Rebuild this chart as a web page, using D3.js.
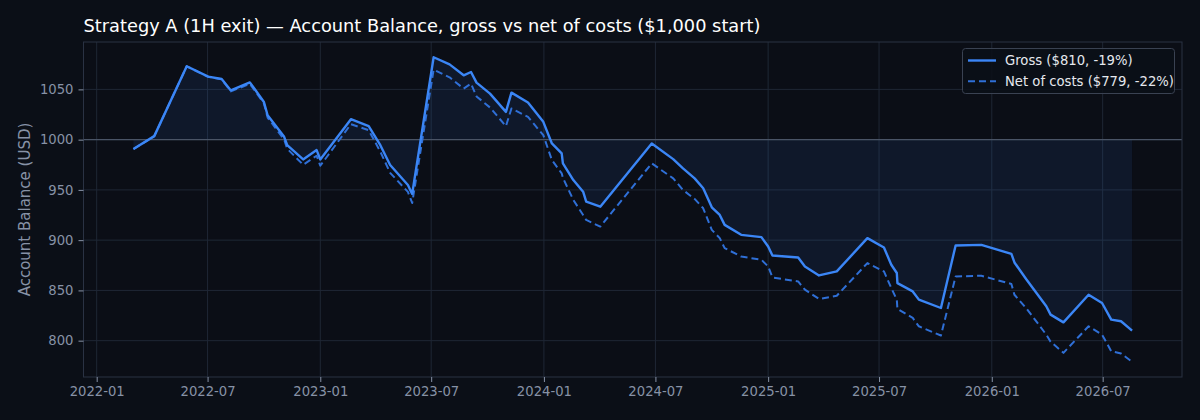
<!DOCTYPE html>
<html><head><meta charset="utf-8">
<script src="https://cdn.jsdelivr.net/npm/d3@7"></script>
<style>
html,body{margin:0;padding:0;background:#0b0f17;}
svg{display:block;font-family:"DejaVu Sans",sans-serif;}
</style></head>
<body><svg id="chart" width="1200" height="420"></svg>
<script>
const dates = ["2022-03-02","2022-04-05","2022-05-28","2022-07-02","2022-07-24","2022-08-08","2022-09-08","2022-10-01","2022-10-07","2022-11-03","2022-11-08","2022-12-04","2022-12-26","2023-01-01","2023-02-20","2023-03-21","2023-04-09","2023-04-25","2023-05-24","2023-05-31","2023-07-05","2023-07-31","2023-08-23","2023-09-04","2023-09-13","2023-10-05","2023-10-31","2023-11-09","2023-12-06","2023-12-31","2024-01-14","2024-01-30","2024-02-01","2024-02-18","2024-03-05","2024-03-10","2024-04-02","2024-06-25","2024-07-30","2024-08-15","2024-09-03","2024-09-17","2024-10-01","2024-10-14","2024-10-22","2024-11-18","2024-12-21","2025-01-01","2025-01-08","2025-02-19","2025-03-02","2025-03-25","2025-04-23","2025-06-12","2025-07-09","2025-07-21","2025-07-30","2025-07-31","2025-08-25","2025-09-04","2025-10-10","2025-11-03","2025-12-15","2026-02-02","2026-02-07","2026-02-26","2026-03-31","2026-04-07","2026-04-28","2026-06-08","2026-06-30","2026-07-15","2026-07-31","2026-08-18"];
const gross = [990.6,1003.5,1073,1062.7,1060.3,1049,1057,1037.5,1024.3,1002.8,994.5,980.3,989.6,980.3,1020.3,1013.4,994.5,974.7,954.9,946,1082,1074.9,1064,1067.3,1056.7,1045.8,1027.6,1046.8,1036.9,1017.7,996.2,986.3,976.4,959.8,948.2,938.3,933.3,996.2,980.6,971.4,961.5,951.6,932.7,925.1,915.2,905.3,903,893.7,884.7,882.7,873.8,864.9,868.9,902,892.7,875.5,867.3,857.3,849,840.8,832.5,894.7,895.3,886.4,877.8,861.3,834.2,825.9,818.2,845.7,837.5,820.9,819.3,810];
const net = [990.6,1003.5,1073,1062.5,1060,1048,1055.5,1036,1022,1000,991,975,984,974,1015.4,1009.4,988,967,948,937,1069.6,1062,1050.8,1055.7,1043,1032,1013.4,1031,1022.6,1004.5,979.7,966.5,962,940,925,920.1,913.5,976.4,961.5,949.9,941,931.7,910.2,902,892.1,883.7,880.5,873.8,862.9,858.9,850.7,841.5,844.7,877.2,868.9,852.4,840.8,831.6,822.6,814.3,805.1,863.9,864.6,856.4,845.7,832.5,806,799,787.9,814.3,806,789.5,787.2,779];
const yTicks = [800, 850, 900, 950, 1000, 1050];
const startBalance = 1000;
const titleText = "Strategy A (1H exit) — Account Balance, gross vs net of costs ($1,000 start)";
const yLabel = "Account Balance (USD)";
const legendLabels = ["Gross ($810, -19%)", "Net of costs ($779, -22%)"];

const W = 1200, H = 420;
const m = {left: 83.5, right: 18, top: 42, bottom: 43};
const svg = d3.select("#chart");
svg.append("rect").attr("width", W).attr("height", H).attr("fill", "#0b0f17");

const parse = d3.timeParse("%Y-%m-%d");
const data = dates.map((d, i) => ({date: parse(d), g: gross[i], n: net[i]}));

const tExt = d3.extent(data, d => d.date);
const tSpan = tExt[1] - tExt[0];
const x = d3.scaleTime()
  .domain([new Date(+tExt[0] - tSpan * 0.05), new Date(+tExt[1] + tSpan * 0.05)])
  .range([m.left, W - m.right]);
const vMin = d3.min([...gross, ...net]), vMax = d3.max([...gross, ...net]);
const vSpan = vMax - vMin;
const y = d3.scaleLinear()
  .domain([vMin - vSpan * 0.05, vMax + vSpan * 0.05])
  .range([H - m.bottom, m.top]);

svg.append("rect").attr("x", m.left).attr("y", m.top)
  .attr("width", W - m.left - m.right).attr("height", H - m.top - m.bottom)
  .attr("fill", "#0b0e16");

const xTicks = x.ticks(d3.timeMonth.every(6));
const grid = svg.append("g");
grid.selectAll(".vg").data(xTicks).join("line")
  .attr("x1", d => x(d)).attr("x2", d => x(d))
  .attr("y1", m.top).attr("y2", H - m.bottom)
  .attr("stroke", "#1f2735").attr("stroke-width", 1);
grid.selectAll(".hg").data(yTicks).join("line")
  .attr("x1", m.left).attr("x2", W - m.right)
  .attr("y1", d => y(d)).attr("y2", d => y(d))
  .attr("stroke", "#1f2735").attr("stroke-width", 1);

const area = d3.area().x(d => x(d.date)).y0(y(startBalance)).y1(d => y(d.g));
svg.append("path").datum(data).attr("d", area)
  .attr("fill", "rgba(59,130,246,0.09)");

svg.append("line").attr("x1", m.left).attr("x2", W - m.right)
  .attr("y1", y(startBalance)).attr("y2", y(startBalance))
  .attr("stroke", "#4a5466").attr("stroke-width", 1.3);

const lineG = d3.line().x(d => x(d.date)).y(d => y(d.g));
const lineN = d3.line().x(d => x(d.date)).y(d => y(d.n));
svg.append("path").datum(data).attr("d", lineN)
  .attr("fill", "none").attr("stroke", "#2f6fd6").attr("stroke-width", 2)
  .attr("stroke-dasharray", "7,4").attr("stroke-linejoin", "round");
svg.append("path").datum(data).attr("d", lineG)
  .attr("fill", "none").attr("stroke", "#3b86f6").attr("stroke-width", 2.4)
  .attr("stroke-linejoin", "round");

svg.append("rect").attr("x", m.left).attr("y", m.top)
  .attr("width", W - m.left - m.right).attr("height", H - m.top - m.bottom)
  .attr("fill", "none").attr("stroke", "#2a3243").attr("stroke-width", 1);

const tickColor = "#8792a6";
const xAxis = svg.append("g").attr("transform", `translate(0,${H - m.bottom})`)
  .call(d3.axisBottom(x).tickValues(xTicks).tickFormat(d3.timeFormat("%Y-%m")).tickSize(5).tickPadding(5));
const yAxis = svg.append("g").attr("transform", `translate(${m.left},0)`)
  .call(d3.axisLeft(y).tickValues(yTicks).tickFormat(d3.format("d")).tickSize(5).tickPadding(5));
[xAxis, yAxis].forEach(a => {
  a.select(".domain").remove();
  a.selectAll(".tick line").attr("stroke", tickColor);
  a.selectAll(".tick text").attr("fill", tickColor)
    .style("font-size", "13.2px").style("font-family", "DejaVu Sans");
});

svg.append("text").attr("x", m.left).attr("y", 32)
  .attr("fill", "#ffffff").style("font-size", "17.8px").text(titleText);

svg.append("text")
  .attr("transform", `translate(30,${(m.top + H - m.bottom) / 2}) rotate(-90)`)
  .attr("text-anchor", "middle").attr("fill", "#8792a6")
  .style("font-size", "15px").text(yLabel);

const lg = svg.append("g");
lg.append("rect").attr("x", 962.5).attr("y", 48.5).attr("width", 212).attr("height", 45)
  .attr("rx", 3).attr("fill", "#0b0f17").attr("fill-opacity", 0.85)
  .attr("stroke", "#3a4252").attr("stroke-width", 1);
const styles = [
  {stroke: "#3b86f6", w: 2.4, dash: null},
  {stroke: "#2f6fd6", w: 2, dash: "7,4"}
];
legendLabels.forEach((t, i) => {
  const yy = 60.5 + i * 20.7;
  lg.append("line").attr("x1", 968).attr("x2", 996).attr("y1", yy).attr("y2", yy)
    .attr("stroke", styles[i].stroke).attr("stroke-width", styles[i].w)
    .attr("stroke-dasharray", styles[i].dash);
  lg.append("text").attr("x", 1005).attr("y", yy + 4.7).attr("fill", "#e5e8ee")
    .style("font-size", "13.2px").text(t);
});
</script></body></html>
